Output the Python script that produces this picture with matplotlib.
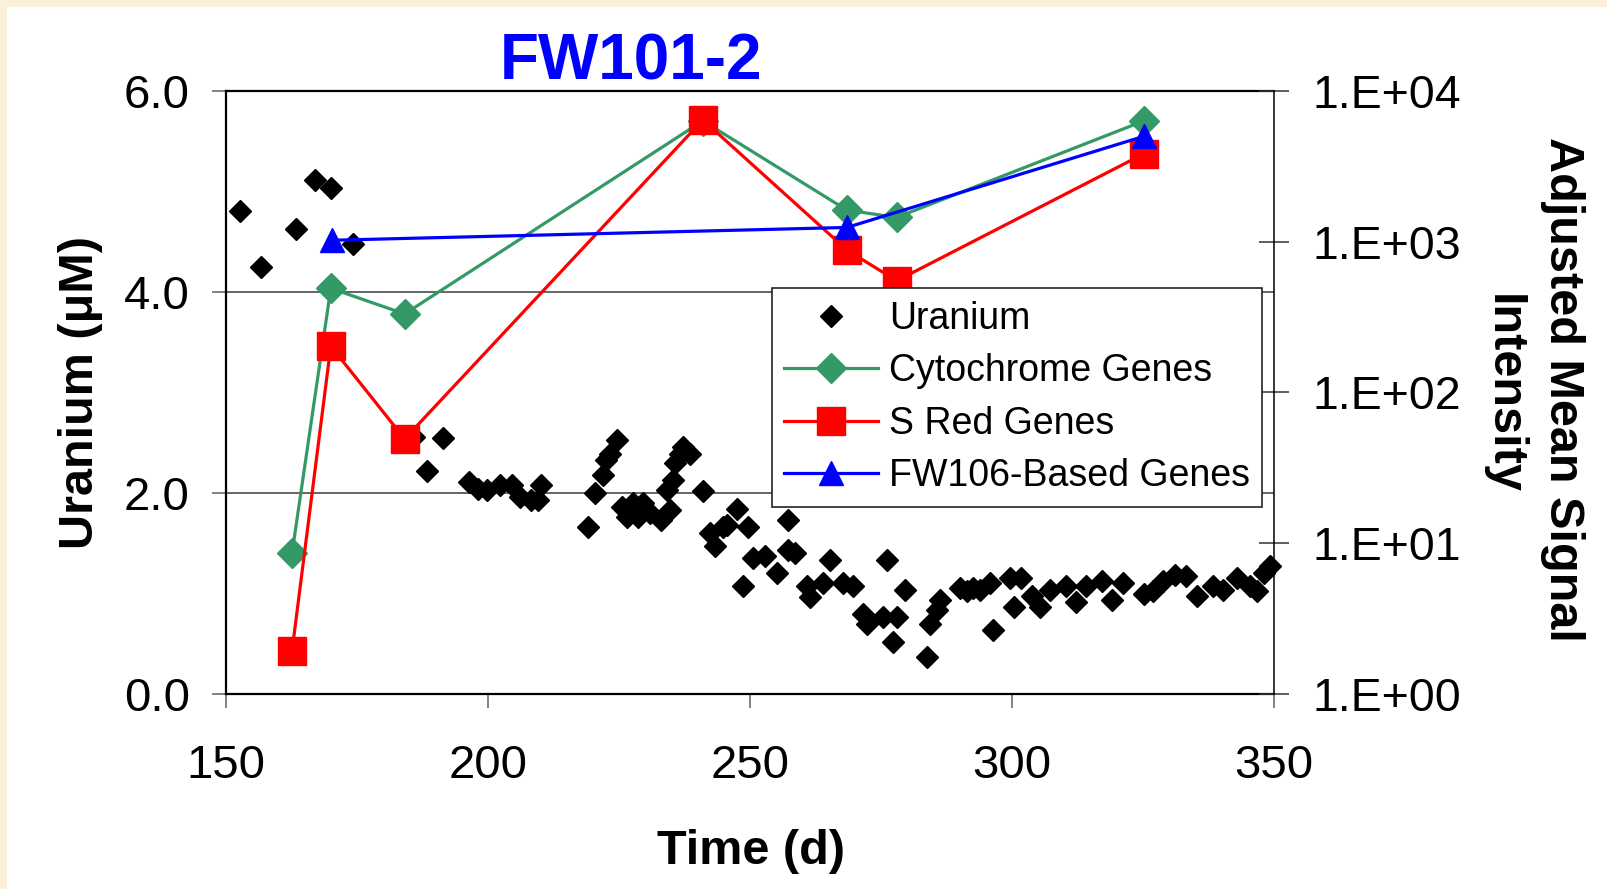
import matplotlib
matplotlib.use('Agg')
import matplotlib.pyplot as plt
from matplotlib.patches import Rectangle
from matplotlib.ticker import FixedLocator, FuncFormatter, NullLocator
import numpy as np

plt.rcParams['font.family'] = ['Liberation Sans', 'DejaVu Sans']

# ---------------- data ----------------
uranium_t = [152.7, 156.7, 163.4, 166.9, 170.0, 174.2, 185.9, 188.3, 191.5,
             196.4, 198.0, 199.8, 202.3, 204.5, 206.1, 208.3, 209.6, 210.2,
             219.1, 220.4, 222.0, 222.6, 223.3, 224.6, 225.5, 226.5, 227.7,
             228.7, 229.6, 230.9, 233.1, 234.1, 234.7, 235.4, 235.7, 236.6,
             237.3, 238.5, 241.1, 242.4, 243.3, 244.9, 245.6, 247.5, 248.7,
             249.6, 250.6, 252.9, 255.1, 257.3, 257.3, 258.6, 260.8, 261.5,
             264.0, 265.3, 267.8, 269.7, 271.6, 272.3, 275.4, 276.1, 277.3,
             278.0, 279.6, 283.7, 284.4, 285.6, 286.3, 290.1, 291.4, 292.6,
             293.9, 295.8, 296.4, 299.6, 300.3, 301.8, 303.8, 305.3, 307.3,
             310.4, 312.3, 314.2, 317.1, 319.0, 321.2, 325.1, 327.0, 328.9,
             331.1, 333.3, 335.3, 338.4, 340.3, 342.9, 345.4, 346.7, 348.0,
             349.3]
uranium_u = [4.81, 4.25, 4.63, 5.11, 5.03, 4.48, 2.56, 2.22, 2.55,
             2.11, 2.04, 2.03, 2.08, 2.08, 1.96, 1.93, 1.93, 2.08,
             1.66, 2.00, 2.18, 2.33, 2.39, 2.53, 1.86, 1.76, 1.90,
             1.76, 1.90, 1.80, 1.73, 2.03, 1.83, 2.13, 2.30, 2.39,
             2.46, 2.39, 2.02, 1.60, 1.47, 1.66, 1.68, 1.84, 1.07,
             1.66, 1.35, 1.37, 1.20, 1.73, 1.43, 1.40, 1.07, 0.97,
             1.10, 1.33, 1.10, 1.07, 0.80, 0.70, 0.77, 1.33, 0.52,
             0.77, 1.03, 0.37, 0.70, 0.84, 0.94, 1.05, 1.02, 1.05,
             1.03, 1.10, 0.64, 1.15, 0.87, 1.15, 0.98, 0.87, 1.03,
             1.07, 0.92, 1.07, 1.12, 0.94, 1.10, 1.00, 1.02, 1.12,
             1.18, 1.17, 0.98, 1.07, 1.03, 1.15, 1.07, 1.02, 1.20,
             1.27]

gene_t = [162.6, 170.0, 184.1, 241.0, 268.5, 278.0, 325.2]
cytochrome = [8.6, 491, 332, 6340, 1620, 1450, 6340]
sred = [1.93, 203, 49.2, 6430, 881, 551, 3840]
fw106_t = [170.2, 268.5, 325.2]
fw106 = [1023, 1244, 5010]

x_ticks = [150, 200, 250, 300, 350]
left_ticks = [0, 2, 4, 6]
right_ticks = [1, 10, 100, 1000, 10000]

# ---------------- figure ----------------
W, H = 1607, 889
fig = plt.figure(figsize=(W / 100, H / 100), dpi=100)
fig.patch.set_facecolor('#FBF1DA')
fig.patches.append(Rectangle((7 / W, 0), 1, 1 - 7 / H, transform=fig.transFigure,
                             facecolor='white', edgecolor='none', zorder=-5))

ax = fig.add_axes([226 / W, 1 - 694 / H, 1048 / W, 603 / H])
ax.set_facecolor('white')
ax.set_xlim(150, 350)
ax.set_ylim(0, 6)

u_line, = ax.plot(uranium_t, uranium_u, linestyle='none', marker='D', ms=11.5,
                  color='black', clip_on=False, zorder=3, label='Uranium')

ax.xaxis.set_major_locator(FixedLocator(x_ticks))
ax.yaxis.set_major_locator(FixedLocator(left_ticks))
ax.yaxis.set_major_formatter(FuncFormatter(lambda v, p: f"{v:.1f}"))
ax.yaxis.grid(True, color='#3a3a3a', lw=1.1)
ax.set_axisbelow(True)
ax.tick_params(axis='x', direction='out', length=10, width=1.3, color='#777777',
               pad=26, labelsize=34)
ax.tick_params(axis='y', direction='out', length=10, width=1.3, color='#777777',
               pad=16, labelsize=34)
for s in ['left', 'bottom', 'top']:
    ax.spines[s].set_linewidth(1.6)
    ax.spines[s].set_color('black')
ax.spines['right'].set_visible(False)

ax2 = ax.twinx()
ax2.set_yscale('log')
ax2.set_ylim(1, 1e4)
c_line, = ax2.plot(gene_t, cytochrome, '-D', color='#339966', ms=15.5, lw=2.3,
                   label='Cytochrome Genes', zorder=4)
s_line, = ax2.plot(gene_t, sred, '-s', color='#FF0000', ms=19.5, lw=2.3,
                   label='S Red Genes', zorder=5)
f_line, = ax2.plot(fw106_t, fw106, '-^', color='#0000FF', ms=17, lw=2.3,
                   label='FW106-Based Genes', zorder=6)
ax2.yaxis.set_major_locator(FixedLocator(right_ticks))
ax2.yaxis.set_minor_locator(NullLocator())
ax2.yaxis.set_major_formatter(FuncFormatter(
    lambda v, p: f"1.E+{int(round(np.log10(v))):02d}"))
ax2.tick_params(axis='y', direction='inout', length=21, width=1.1, color='#333333',
                pad=17.5, labelsize=33.5)
for s in ['left', 'bottom', 'top']:
    ax2.spines[s].set_visible(False)
ax2.spines['right'].set_linewidth(1.1)

leg = ax2.legend([u_line, c_line, s_line, f_line],
                 ['Uranium', 'Cytochrome Genes', 'S Red Genes', 'FW106-Based Genes'],
                 loc='upper left', bbox_to_anchor=(0.5207, 0.6733), borderaxespad=0,
                 fontsize=27, frameon=True, fancybox=False, framealpha=1,
                 edgecolor='#222222', borderpad=0.34, handlelength=2.5,
                 handletextpad=0.28, labelspacing=0.44, numpoints=1)
leg.get_frame().set_linewidth(1.2)
leg.set_zorder(10)

# ---------------- texts ----------------
fig.text(631 / W, 1 - 80 / H, 'FW101-2', ha='center', va='baseline',
         fontsize=46, fontweight='bold', color='#0000FF')
fig.text(751 / W, 1 - 864 / H, 'Time (d)', ha='center', va='baseline',
         fontsize=35, fontweight='bold')
fig.text(81 / W, 1 - 392.5 / H, 'Uranium (μM)', rotation=90, ha='center',
         va='center', fontsize=35, fontweight='bold')
fig.text(1563 / W, 1 - 389.5 / H, 'Adjusted Mean Signal', rotation=270,
         ha='center', va='center', fontsize=35, fontweight='bold')
fig.text(1503 / W, 1 - 393.6 / H, 'Intensity', rotation=270,
         ha='center', va='center', fontsize=35, fontweight='bold')

fig.savefig('out.png', dpi=100, facecolor=fig.get_facecolor())
